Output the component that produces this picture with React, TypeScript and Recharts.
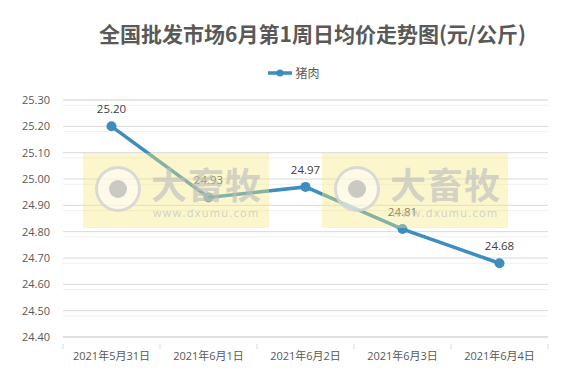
import { CartesianGrid, LabelList, Legend, Line, LineChart, XAxis, YAxis } from "recharts";

const dates = ["2021年5月31日", "2021年6月1日", "2021年6月2日", "2021年6月3日", "2021年6月4日"];
const porkPrices = [25.2, 24.93, 24.97, 24.81, 24.68];
const majorTicks = [24.4, 24.5, 24.6, 24.7, 24.8, 24.9, 25.0, 25.1, 25.2, 25.3];
const minorSteps = [0.02, 0.04, 0.06, 0.08];

const data = dates.map((date, i) => ({ date, pork: porkPrices[i] }));
const minorTicks = majorTicks.slice(0, -1).flatMap((t) => minorSteps.map((s) => t + s));

const BLUE = "#3d8dbd";
const TEXT = "#595959";
const FONT = "'Open Sans', 'Noto Sans CJK SC', sans-serif";
const BAND = 97;

function DateTick(props: any) {
  const { x, y, payload, index } = props;
  const left = x - BAND / 2;
  return (
    <g>
      <line x1={left} y1={y - 1} x2={left} y2={y + 4} stroke="#d9d9d9" />
      {index === dates.length - 1 && (
        <line x1={x + BAND / 2} y1={y - 1} x2={x + BAND / 2} y2={y + 4} stroke="#d9d9d9" />
      )}
      <text x={x} y={y + 15} textAnchor="middle" fill={TEXT} fontSize={11} fontFamily={FONT}>
        {payload.value}
      </text>
    </g>
  );
}

function LegendContent() {
  return (
    <div style={{ display: "flex", alignItems: "center", justifyContent: "center", height: 17 }}>
      <svg width={26} height={10}>
        <line x1={1} y1={5} x2={25} y2={5} stroke={BLUE} strokeWidth={3.5} />
        <circle cx={13} cy={5} r={3.5} fill={BLUE} />
      </svg>
      <span style={{ color: TEXT, fontSize: 12, fontFamily: FONT, marginLeft: 2 }}>猪肉</span>
    </div>
  );
}

function Watermark({ left }: { left: number }) {
  return (
    <div
      style={{
        position: "absolute",
        left,
        top: 153,
        width: 186,
        height: 75,
        background: "rgba(246, 232, 128, 0.4)",
        pointerEvents: "none",
      }}
    >
      <div
        style={{
          position: "absolute",
          left: 12,
          top: 13,
          width: 46,
          height: 46,
          borderRadius: "50%",
          border: "3px solid rgba(205,205,205,0.75)",
          background: "rgba(255,255,255,0.55)",
          boxSizing: "border-box",
        }}
      >
        <div
          style={{
            position: "absolute",
            left: 11,
            top: 11,
            width: 18,
            height: 18,
            borderRadius: "50%",
            background: "rgba(175,175,175,0.65)",
          }}
        />
      </div>
      <div
        style={{
          position: "absolute",
          left: 68,
          top: 8,
          fontSize: 36,
          fontWeight: 700,
          letterSpacing: 1,
          color: "rgba(190,190,190,0.65)",
          fontFamily: "'Noto Sans CJK SC', sans-serif",
          lineHeight: "44px",
        }}
      >
        大畜牧
      </div>
      <div
        style={{
          position: "absolute",
          left: 70,
          top: 52,
          fontSize: 11,
          letterSpacing: 1.3,
          color: "rgba(195,195,195,0.75)",
          fontFamily: FONT,
        }}
      >
        www.dxumu.com
      </div>
    </div>
  );
}

export default function App() {
  return (
    <div style={{ position: "absolute", left: 0, top: 0, width: 587, height: 390, background: "#fff" }}>
      <div
        style={{
          position: "absolute",
          left: 0,
          top: 20,
          width: 625,
          textAlign: "center",
          fontSize: 21,
          fontWeight: 700,
          color: TEXT,
          fontFamily: "'Noto Sans CJK SC', sans-serif",
          lineHeight: "26px",
        }}
      >
        全国批发市场6月第1周日均价走势图(元/公斤)
      </div>
      <LineChart width={587} height={390} data={data} margin={{ top: 83, right: 39, bottom: 23, left: 0 }}>
        <CartesianGrid yAxisId="minor" vertical={false} stroke="#f0f0f0" />
        <CartesianGrid vertical={false} stroke="#d9d9d9" />
        <YAxis
          yAxisId="minor"
          hide
          domain={[24.4, 25.3]}
          ticks={minorTicks}
          type="number"
          allowDataOverflow
        />
        <XAxis
          dataKey="date"
          stroke="#d9d9d9"
          tickLine={false}
          tick={<DateTick />}
          interval={0}
          height={30}
          padding={{ left: BAND / 2, right: BAND / 2 }}
        />
        <YAxis
          domain={[24.4, 25.3]}
          ticks={majorTicks}
          type="number"
          width={63}
          axisLine={false}
          tickLine={false}
          tickSize={0}
          tickMargin={13}
          tickFormatter={(v: number) => v.toFixed(2)}
          tick={{ fontSize: 11, fill: TEXT, fontFamily: FONT }}
          allowDataOverflow
        />
        <Legend
          verticalAlign="top"
          align="center"
          height={17}
          wrapperStyle={{ top: 64, left: 0, width: 587 }}
          content={<LegendContent />}
        />
        <Line
          name="猪肉"
          dataKey="pork"
          type="linear"
          stroke={BLUE}
          strokeWidth={3.5}
          dot={{ r: 5, fill: BLUE, stroke: BLUE, strokeWidth: 0 }}
          activeDot={false}
          isAnimationActive={false}
        >
          <LabelList
            dataKey="pork"
            position="top"
            offset={13}
            formatter={(v: number) => v.toFixed(2)}
            style={{ fontSize: 11.5, fill: "#404040", fontFamily: FONT }}
          />
        </Line>
      </LineChart>
      <Watermark left={83} />
      <Watermark left={322} />
    </div>
  );
}
